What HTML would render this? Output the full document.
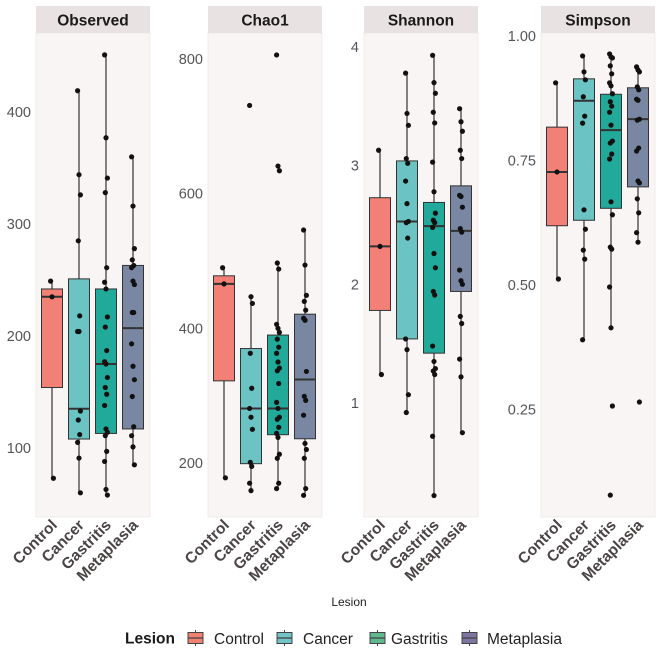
<!DOCTYPE html>
<html><head><meta charset="utf-8"><style>
html,body{margin:0;padding:0;background:#fff;}
svg text{font-family:"Liberation Sans",Arial,sans-serif;}
</style></head><body>
<svg id="chart" width="661" height="661" viewBox="0 0 661 661" xmlns="http://www.w3.org/2000/svg"></svg>
<script>
const categories = ["Control","Cancer","Gastritis","Metaplasia"];
const colors = ["#f28076","#6cc3c3","#21a99a","#7a87a3"];
const legendColors = ["#f08070","#72c4c6","#5fb98f","#7e76a0"];
const metrics = ["Observed","Chao1","Shannon","Simpson"];
// box stats: [lowWhisker, q1, median, q3, highWhisker]
const observedBoxes = [[73,154,235,242,249],[60,108,135,251,419],[58,113,175,242,451],[85,117,207,263,360]];
const chao1Boxes = [[178,322,466,478,490],[159,199,281,370,447],[162,242,281,390,497],[152,236,324,421,546]];
const shannonBoxes = [[1.24,1.78,2.32,2.73,3.13],[0.92,1.54,2.53,3.04,3.78],[0.22,1.42,2.49,2.69,3.93],[0.75,1.94,2.45,2.83,3.48]];
const simpsonBoxes = [[0.512,0.619,0.727,0.817,0.906],[0.39,0.63,0.87,0.914,0.96],[0.414,0.654,0.811,0.883,0.964],[0.586,0.697,0.833,0.896,0.938]];
const observedPoints = [[249,235,73],[419,344,326,285,218,204,204,133,125,112,105,91,60],[451,377,341,328,261,248,242,217,208,187,177,175,163,154,148,138,117,114,111,97,88,63,58],[360,316,278,268,263,261,249,246,221,221,193,173,161,146,119,111,101,85]];
const chao1Points = [[490,466,178],[731,447,437,363,311,281,268,250,201,195,170,159],[806,641,634,497,488,406,400,394,384,372,363,350,341,337,318,290,281,268,265,253,244,238,213,207,170,162],[546,494,449,440,427,415,412,336,299,293,271,229,220,207,162,152]];
const shannonPoints = [[3.13,2.32,1.24],[3.78,3.44,3.34,3.06,3.02,2.87,2.68,2.53,2.52,2.39,1.54,1.45,1.07,0.92],[3.93,3.70,3.61,3.45,3.36,3.03,2.78,2.60,2.54,2.52,2.48,2.26,2.14,1.94,1.91,1.48,1.35,1.29,1.27,1.24,0.72,0.22],[3.48,3.37,3.29,3.13,3.06,2.75,2.74,2.65,2.47,2.44,2.12,2.03,2.00,1.73,1.67,1.37,1.22,0.75]];
const simpsonPoints = [[0.906,0.727,0.512],[0.96,0.928,0.912,0.878,0.839,0.825,0.651,0.612,0.570,0.552,0.39],[0.964,0.958,0.956,0.94,0.924,0.906,0.90,0.884,0.868,0.859,0.847,0.821,0.789,0.785,0.763,0.753,0.667,0.641,0.576,0.572,0.496,0.414,0.257,0.078],[0.938,0.932,0.928,0.898,0.892,0.873,0.871,0.833,0.831,0.775,0.769,0.709,0.705,0.673,0.645,0.605,0.586,0.265]];
const observedTicks = [100,200,300,400];
const chao1Ticks = [200,400,600,800];
const shannonTicks = [1,2,3,4];
const simpsonTicks = [0.25,0.50,0.75,1.00];
const simpsonTickLabels = ["0.25","0.50","0.75","1.00"];

const svg = document.getElementById('chart');
const NS = "http://www.w3.org/2000/svg";
function mk(tag, attrs, parent){const e=document.createElementNS(NS,tag);for(const k in attrs)e.setAttribute(k,attrs[k]);(parent||svg).appendChild(e);return e;}

const panels = [
  {x0:36, boxes:observedBoxes, pts:observedPoints, ticks:observedTicks, labels:observedTicks.map(String), d:[100,400], r:[448,112]},
  {x0:208, boxes:chao1Boxes, pts:chao1Points, ticks:chao1Ticks, labels:chao1Ticks.map(String), d:[200,800], r:[463,59]},
  {x0:364, boxes:shannonBoxes, pts:shannonPoints, ticks:shannonTicks, labels:shannonTicks.map(String), d:[1,4], r:[403,47]},
  {x0:541, boxes:simpsonBoxes, pts:simpsonPoints, ticks:simpsonTicks, labels:simpsonTickLabels, d:[0.25,1], r:[409.5,36]}
];
const PW=114, TOP=33, BOT=517;

panels.forEach((p,pi)=>{
  const y = v => p.r[0] + (v-p.d[0])*(p.r[1]-p.r[0])/(p.d[1]-p.d[0]);
  const xc = i => p.x0 + 16 + 27*i;
  const g = mk('g',{});
  
  
  const bg = mk('rect',{x:p.x0,y:TOP,width:PW,height:BOT-TOP,fill:'#f8f5f4',stroke:'#ece8e7','stroke-width':0.8},g);
  
  
  const strip = mk('rect',{x:p.x0,y:6,width:PW,height:27,fill:'#e9e2e2'},g);
  
  
  const st = mk('text',{x:p.x0+PW/2,y:25.5,'text-anchor':'middle','font-size':15.5,'font-weight':'bold',fill:'#1a1a1a'},g);
  st.textContent = metrics[pi];
  
  
  p.ticks.forEach((t,ti)=>{
    const tl = mk('text',{x:p.x0-5,y:y(t)+5,'text-anchor':'end','font-size':14.5,fill:'#555'},g);
    tl.textContent = p.labels[ti];
    
    
  });
  p.boxes.forEach((b,i)=>{
    const cx = xc(i);
    const wl = mk('line',{x1:cx,x2:cx,y1:y(b[0]),y2:y(b[4]),stroke:'#333','stroke-width':1.2},g);
    
    
    const r = mk('rect',{x:cx-10.5,y:y(b[3]),width:21,height:y(b[1])-y(b[3]),fill:colors[i],stroke:'#333','stroke-width':1},g);
    
    
    const m = mk('line',{x1:cx-10.5,x2:cx+10.5,y1:y(b[2]),y2:y(b[2]),stroke:'#333','stroke-width':2},g);
    
    
  });
  p.pts.forEach((arr,i)=>{
    arr.forEach((v,k)=>{
      const jx = ((k*7)%5 - 2)*0.7;
      const c = mk('circle',{cx:xc(i)+jx,cy:y(v),r:2.6,fill:'#111'},g);
      
      
    });
    const xl = mk('text',{x:0,y:0,'text-anchor':'end','font-size':15.5,'font-weight':'bold',fill:'#4a4444',transform:`translate(${xc(i)+6},${BOT+9}) rotate(-45)`},g);
    xl.textContent = categories[i];
    
    
  });
});

const xt = mk('text',{x:349,y:606,'text-anchor':'middle','font-size':12,fill:'#222'});
xt.textContent='Lesion';



const lg = mk('g',{});


const lt = mk('text',{x:125,y:643.5,'font-size':15.5,'font-weight':'bold',fill:'#1a1a1a'},lg);
lt.textContent='Lesion';


const keyX=[188,277,370,462], txtX=[214,303,391,487];
categories.forEach((c,i)=>{
  const e = mk('g',{},lg);
  
  
  mk('line',{x1:keyX[i]+7.5,x2:keyX[i]+7.5,y1:630,y2:646,stroke:'#444','stroke-width':1},e);
  mk('rect',{x:keyX[i],y:632.5,width:15,height:11,fill:legendColors[i],stroke:'#444','stroke-width':1},e);
  mk('line',{x1:keyX[i],x2:keyX[i]+15,y1:638,y2:638,stroke:'#444','stroke-width':1.3},e);
  const t = mk('text',{x:txtX[i],y:644,'font-size':15.5,fill:'#222'},e);
  t.textContent=c;
});
</script>
</body></html>
